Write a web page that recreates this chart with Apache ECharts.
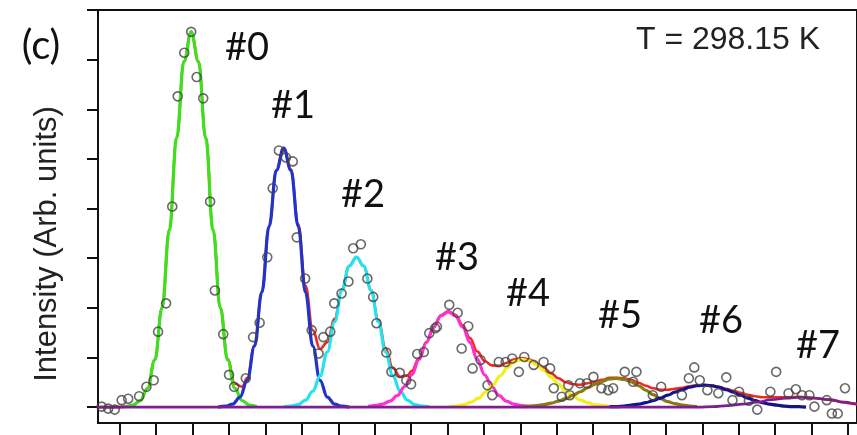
<!DOCTYPE html>
<html>
<head>
<meta charset="utf-8">
<script src="https://cdn.jsdelivr.net/npm/echarts@6/dist/echarts.min.js"></script>
<style>
  html, body { margin: 0; padding: 0; background: #fff; }
  #chart { width: 857px; height: 435px; }
</style>
</head>
<body>
<div id="chart"></div>
<script>
// measured points (open circles), x in tick units, y in arb. units
const measured = [
  [-0.50, 0.01], [-0.32, -0.03], [-0.14, -0.05], [0.05, 0.14], [0.23, 0.17], [0.53, 0.22],
  [0.73, 0.41], [0.93, 0.54], [1.05, 1.52], [1.27, 2.09], [1.44, 4.04], [1.59, 6.26],
  [1.77, 7.14], [1.96, 7.56], [2.11, 6.65], [2.29, 6.22], [2.48, 4.14], [2.61, 2.35],
  [2.84, 1.47], [3.00, 0.65], [3.14, 0.41], [3.46, 0.58], [3.66, 1.41], [3.84, 1.70],
  [4.05, 3.02], [4.20, 4.41], [4.37, 5.17], [4.56, 5.03], [4.75, 4.95], [4.86, 3.42],
  [5.09, 2.59], [5.27, 1.55], [5.46, 1.08], [5.59, 1.41], [5.78, 1.52], [5.89, 2.09],
  [6.09, 2.29], [6.28, 2.53], [6.41, 3.20], [6.62, 3.28], [6.80, 2.59], [6.96, 2.22],
  [7.05, 1.69], [7.32, 1.10], [7.46, 0.71], [7.69, 0.69], [7.87, 0.54], [8.00, 0.46],
  [8.17, 1.07], [8.35, 1.11], [8.50, 1.49], [8.66, 1.59], [8.71, 1.62], [9.05, 2.06],
  [9.28, 1.90], [9.39, 1.18], [9.57, 1.63], [9.69, 0.78], [9.91, 0.95], [10.10, 0.44],
  [10.23, 0.24], [10.41, 0.91], [10.60, 0.91], [10.78, 0.98], [10.96, 0.71], [11.11, 1.01],
  [11.37, 0.85], [11.64, 0.91], [11.82, 0.78], [11.92, 0.38], [12.14, 0.21], [12.32, 0.44],
  [12.36, 0.24], [12.64, 0.48], [12.83, 0.48], [13.01, 0.61], [13.23, 0.38], [13.42, 0.34],
  [13.55, 0.38], [13.87, 0.71], [14.10, 0.51], [14.19, 0.71], [14.64, 0.24], [14.87, 0.41],
  [15.44, 0.24], [15.63, 0.58], [15.78, 0.80], [15.93, 0.54], [16.14, 0.34], [16.44, 0.28],
  [16.66, 0.60], [16.83, 0.14], [17.01, 0.31], [17.28, 0.13], [17.51, -0.05], [17.87, 0.31],
  [18.03, 0.71], [18.37, 0.28], [18.57, 0.36], [18.74, 0.24], [18.94, 0.24], [19.08, 0.01],
  [19.42, 0.14], [19.56, -0.13], [19.72, -0.13], [19.92, 0.38]
]

// total fit (red)
const fitSum = [
  [-0.6, 0], [-0.04, 0], [0.16, 0.01], [0.36, 0.04], [0.56, 0.13], [0.76, 0.38], [0.96, 0.95],
  [1.16, 2.00], [1.36, 3.57], [1.56, 5.42], [1.76, 6.96], [1.96, 7.56], [2.16, 6.96], [2.36, 5.42],
  [2.56, 3.57], [2.76, 2.00], [2.96, 0.97], [3.16, 0.47], [3.36, 0.41], [3.50, 0.59], [3.70, 1.24],
  [3.90, 2.31], [4.10, 3.64], [4.30, 4.77], [4.50, 5.22], [4.70, 4.79], [4.90, 3.69], [5.10, 2.45],
  [5.30, 1.55], [5.50, 1.17], [5.70, 1.31], [5.90, 1.78], [6.10, 2.37], [6.30, 2.84], [6.50, 3.02],
  [6.70, 2.84], [6.90, 2.36], [7.10, 1.76], [7.30, 1.19], [7.50, 0.79], [7.70, 0.61], [7.90, 0.64],
  [8.02, 0.73], [8.22, 0.99], [8.42, 1.31], [8.62, 1.61], [8.82, 1.85], [9.02, 1.93], [9.22, 1.86],
  [9.42, 1.65], [9.62, 1.39], [9.82, 1.12], [10.02, 0.93], [10.22, 0.84], [10.42, 0.83], [10.62, 0.89],
  [10.82, 0.96], [11.05, 0.99], [11.25, 0.96], [11.45, 0.88], [11.65, 0.79], [11.85, 0.68],
  [12.05, 0.58], [12.25, 0.50], [12.45, 0.46], [12.65, 0.45], [12.85, 0.48], [13.05, 0.51],
  [13.25, 0.55], [13.45, 0.59], [13.65, 0.59], [13.85, 0.58], [14.05, 0.55], [14.25, 0.49],
  [14.45, 0.43], [14.65, 0.38], [14.85, 0.35], [15.05, 0.35], [15.25, 0.37], [15.45, 0.39],
  [15.65, 0.42], [15.85, 0.44], [16.05, 0.45], [16.25, 0.44], [16.45, 0.41], [16.65, 0.37],
  [16.85, 0.33], [17.05, 0.29], [17.25, 0.25], [17.45, 0.22], [17.65, 0.20], [17.85, 0.20],
  [18.05, 0.20], [18.25, 0.20], [18.45, 0.20], [18.65, 0.21], [18.85, 0.20], [19.05, 0.19],
  [19.25, 0.17], [19.45, 0.15], [19.65, 0.13], [19.85, 0.10], [20.05, 0.08], [20.25, 0.06], [20.45, 0.05]
]

// fitted components #0 .. #7
const peak0 = [
  [0.16, 0.01], [0.36, 0.04], [0.56, 0.13], [0.76, 0.38], [0.96, 0.95], [1.16, 2.00], [1.36, 3.57],
  [1.56, 5.42], [1.76, 6.96], [1.96, 7.56], [2.16, 6.96], [2.36, 5.42], [2.56, 3.57], [2.76, 2.00],
  [2.96, 0.95], [3.16, 0.38], [3.36, 0.13], [3.56, 0.04], [3.76, 0.01]
]
const peak1 = [
  [2.70, 0.00], [2.90, 0.02], [3.10, 0.06], [3.30, 0.20], [3.50, 0.54], [3.70, 1.23], [3.90, 2.31],
  [4.10, 3.64], [4.30, 4.77], [4.50, 5.22], [4.70, 4.77], [4.90, 3.64], [5.10, 2.31], [5.30, 1.23],
  [5.50, 0.54], [5.70, 0.20], [5.90, 0.06], [6.10, 0.02], [6.30, 0.00]
]
const peak2 = [
  [4.50, 0.01], [4.70, 0.02], [4.90, 0.05], [5.10, 0.14], [5.30, 0.32], [5.50, 0.63], [5.70, 1.11],
  [5.90, 1.72], [6.10, 2.35], [6.30, 2.84], [6.50, 3.02], [6.70, 2.84], [6.90, 2.35], [7.10, 1.72],
  [7.30, 1.11], [7.50, 0.63], [7.70, 0.32], [7.90, 0.14], [8.10, 0.05], [8.30, 0.02], [8.50, 0.01]
]
const peak3 = [
  [6.82, 0.01], [7.02, 0.03], [7.22, 0.06], [7.42, 0.12], [7.62, 0.23], [7.82, 0.41], [8.02, 0.65],
  [8.22, 0.96], [8.42, 1.30], [8.62, 1.61], [8.82, 1.84], [9.02, 1.92], [9.22, 1.84], [9.42, 1.61],
  [9.62, 1.30], [9.82, 0.96], [10.02, 0.65], [10.22, 0.41], [10.42, 0.23], [10.62, 0.12],
  [10.82, 0.06], [11.02, 0.03], [11.22, 0.01]
]
const peak4 = [
  [9.05, 0.01], [9.25, 0.02], [9.45, 0.05], [9.65, 0.10], [9.85, 0.18], [10.05, 0.30], [10.25, 0.45],
  [10.45, 0.63], [10.65, 0.80], [10.85, 0.92], [11.05, 0.96], [11.25, 0.93], [11.45, 0.85],
  [11.65, 0.74], [11.85, 0.60], [12.05, 0.46], [12.25, 0.33], [12.45, 0.22], [12.65, 0.14],
  [12.85, 0.09], [13.05, 0.05], [13.25, 0.03], [13.45, 0.01]
]
const peak5 = [
  [11.05, 0.01], [11.25, 0.02], [11.45, 0.03], [11.65, 0.05], [11.85, 0.08], [12.05, 0.12],
  [12.25, 0.17], [12.45, 0.24], [12.65, 0.31], [12.85, 0.39], [13.05, 0.46], [13.25, 0.52],
  [13.45, 0.57], [13.65, 0.58], [13.85, 0.56], [14.05, 0.51], [14.25, 0.43], [14.45, 0.34],
  [14.65, 0.25], [14.85, 0.17], [15.05, 0.11], [15.25, 0.07], [15.45, 0.04], [15.65, 0.02], [15.85, 0.01]
]
const peak6 = [
  [13.45, 0.01], [13.65, 0.01], [13.85, 0.02], [14.05, 0.04], [14.25, 0.06], [14.45, 0.09],
  [14.65, 0.13], [14.85, 0.18], [15.05, 0.24], [15.25, 0.30], [15.45, 0.35], [15.65, 0.40],
  [15.85, 0.43], [16.05, 0.44], [16.25, 0.43], [16.45, 0.40], [16.65, 0.35], [16.85, 0.30],
  [17.05, 0.24], [17.25, 0.18], [17.45, 0.13], [17.65, 0.09], [17.85, 0.06], [18.05, 0.04],
  [18.25, 0.02], [18.45, 0.01], [18.65, 0.01], [18.85, 0.00]
]
const peak7 = [
  [-0.6, 0], [15.9, 0], [16.3, 0.01], [16.7, 0.03], [17.1, 0.06], [17.5, 0.10], [17.9, 0.15],
  [18.3, 0.18], [18.7, 0.20], [19.1, 0.18], [19.5, 0.15], [19.9, 0.10], [20.3, 0.06], [20.5, 0.05]
]

const peakNames = ['#0', '#1', '#2', '#3', '#4', '#5', '#6', '#7']
const xTicks = [0, 1, 2, 3, 4, 5, 6, 7, 8, 9, 10, 11, 12, 13, 14, 15, 16, 17, 18, 19, 20]
const yTicks = [0, 1, 2, 3, 4, 5, 6, 7, 8]

const chart = echarts.init(document.getElementById('chart'))

function fitLine(name, data, color, width) {
  return {
    name: name,
    type: 'line',
    data: data,
    smooth: 0.4,
    smoothMonotone: 'x',
    showSymbol: false,
    silent: true,
    lineStyle: { color: color, width: width || 3.2 }
  }
}

// where the peak labels sit (pixels)
const labelPos = [[247, 48], [293, 106], [363, 195], [457, 258], [528, 294], [620, 316], [721, 321], [818, 346]]

const option = {
  animation: false,
  backgroundColor: '#fff',
  grid: {
    left: 98,
    top: 10,
    right: -5,
    bottom: 12,
    show: true,
    borderColor: '#111',
    borderWidth: 2
  },
  xAxis: {
    type: 'value',
    min: -0.6,
    max: 20.25,
    axisLine: { show: true, onZero: false, lineStyle: { color: '#111', width: 2 } },
    axisTick: { show: true, customValues: xTicks, length: 14, lineStyle: { color: '#111', width: 2 } },
    axisLabel: { show: false },
    splitLine: { show: false }
  },
  yAxis: {
    type: 'value',
    min: -0.32,
    max: 8,
    axisLine: { show: true, onZero: false, lineStyle: { color: '#111', width: 2 } },
    axisTick: { show: true, customValues: yTicks, length: 11, lineStyle: { color: '#111', width: 2 } },
    axisLabel: { show: false },
    splitLine: { show: false }
  },
  graphic: [
    {
      type: 'text', x: 41, y: 46,
      style: { text: '(c)', font: '40px Lato', fill: '#111', align: 'center', verticalAlign: 'middle' }
    },
    {
      type: 'text', x: 47, y: 244, rotation: Math.PI / 2,
      style: { text: 'Intensity (Arb. units)', font: '31px "Liberation Sans"', fill: '#222', align: 'center', verticalAlign: 'middle' }
    },
    {
      type: 'text', x: 728, y: 40,
      style: { text: 'T = 298.15 K', font: '32px "Liberation Sans"', fill: '#222', align: 'center', verticalAlign: 'middle' }
    }
  ].concat(peakNames.map(function (t, i) {
    return {
      type: 'text', x: labelPos[i][0], y: labelPos[i][1],
      style: { text: t, font: '38px Lato', fill: '#111', align: 'center', verticalAlign: 'middle' }
    }
  })),
  series: [
    fitLine('sum', fitSum, '#f0281e', 2.6),
    fitLine('#0', peak0, '#3ee01c'),
    fitLine('#1', peak1, '#2233cc'),
    fitLine('#2', peak2, '#22e4ee'),
    fitLine('#3', peak3, '#ff2fd0'),
    fitLine('#4', peak4, '#f2ef1c'),
    fitLine('#5', peak5, '#8a7a14'),
    fitLine('#6', peak6, '#14148a'),
    fitLine('#7', peak7, '#7d1f8f', 2.6),
    {
      name: 'data',
      type: 'scatter',
      data: measured,
      symbol: 'circle',
      symbolSize: 9,
      silent: true,
      itemStyle: { color: 'rgba(255,255,255,0)', borderColor: '#444', borderWidth: 1.6 },
      z: 5
    }
  ]
}

chart.setOption(option)
</script>
</body>
</html>
